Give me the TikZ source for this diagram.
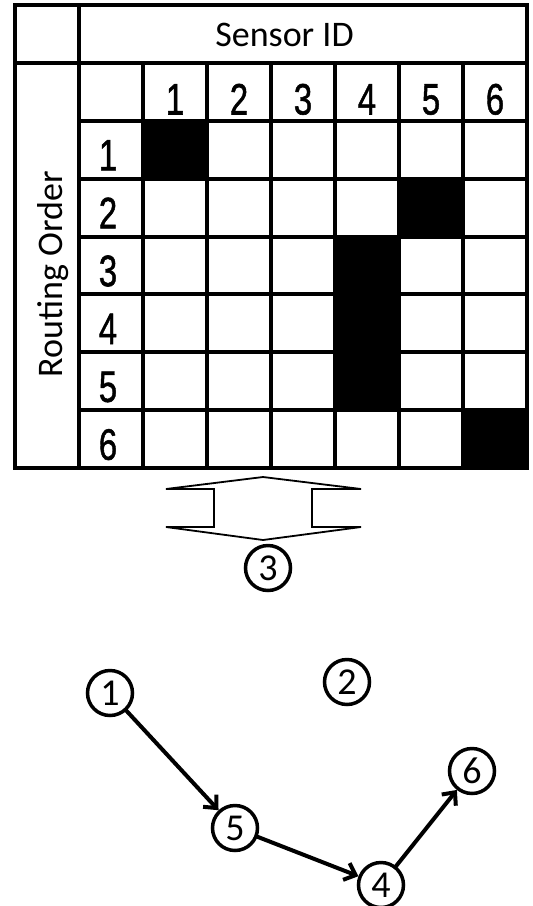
\documentclass[tikz,border=0pt]{standalone}
\usepackage{fontspec}
\setmainfont{Carlito}
\newfontfamily\digitfont{Liberation Sans}[FakeBold=1.3]
\usetikzlibrary{arrows.meta,positioning}

\tikzset{
  gridline/.style={line width=4.5pt},
  cellnum/.style={font=\digitfont\fontsize{44}{44}\selectfont,inner sep=0pt,anchor=base},
  sensor/.style={circle,draw,line width=3.5pt,minimum size=45pt,inner sep=0pt,fill=white,
    font=\fontsize{38}{38}\selectfont},
  hop/.style={-{Straight Barb[length=10pt,width=18pt]},line width=4pt}
}

\begin{document}
\begin{tikzpicture}[x=1pt,y=-1pt,line cap=rect,line join=miter]
\path[use as bounding box] (0,0) rectangle (533,906);
% occupied cells
\fill (143,121) rectangle (207,179);
\fill (399,179) rectangle (463,237);
\fill (335,237) rectangle (399,410);
\fill (463,410) rectangle (527,468);
% table
\draw[gridline] (15,5) rectangle (527,468);
\draw[gridline] (15,63) -- (527,63);
\draw[gridline] (79,5) -- (79,468);
\foreach \y in {121,179,237,294,352,410}
  \draw[gridline] (79,\y) -- (527,\y);
\foreach \x in {143,207,271,335,399,463}
  \draw[gridline] (\x,63) -- (\x,468);
\node[font=\fontsize{36}{36}\selectfont] (title) at (284.5,35) {Sensor ID};
\node[rotate=90,font=\fontsize{36}{36}\selectfont] (axis) at (53,274) {Routing Order};
\foreach \i in {1,...,6} {
  \node[cellnum] (col\i) at (111+64*\i,114.5) {\scalebox{0.75}[1]{\i}};
  \node[cellnum] (row\i) at (108,112.5+57.875*\i) {\scalebox{0.75}[1]{\i}};
}
% up/down arrow
\draw[line width=1.8pt,fill=white] (166,489) -- (263,477) -- (361,489) -- (312,489)
  -- (312,527) -- (361,527) -- (263,540) -- (166,527) -- (214,527) -- (214,489) -- cycle;
% sensors
\node[sensor] (s3) at (268,568) {3};
\node[sensor] (s1) at (110,693) {1};
\node[sensor] (s2) at (347,682) {2};
\node[sensor] (s6) at (472,771) {6};
\node[sensor] (s5) at (235,828) {5};
\node[sensor] (s4) at (381,885) {4};
\draw[hop] (s1) -- (s5);
\draw[hop] (s5) -- (s4);
\draw[hop] (s4) -- (s6);
\end{tikzpicture}
\end{document}
